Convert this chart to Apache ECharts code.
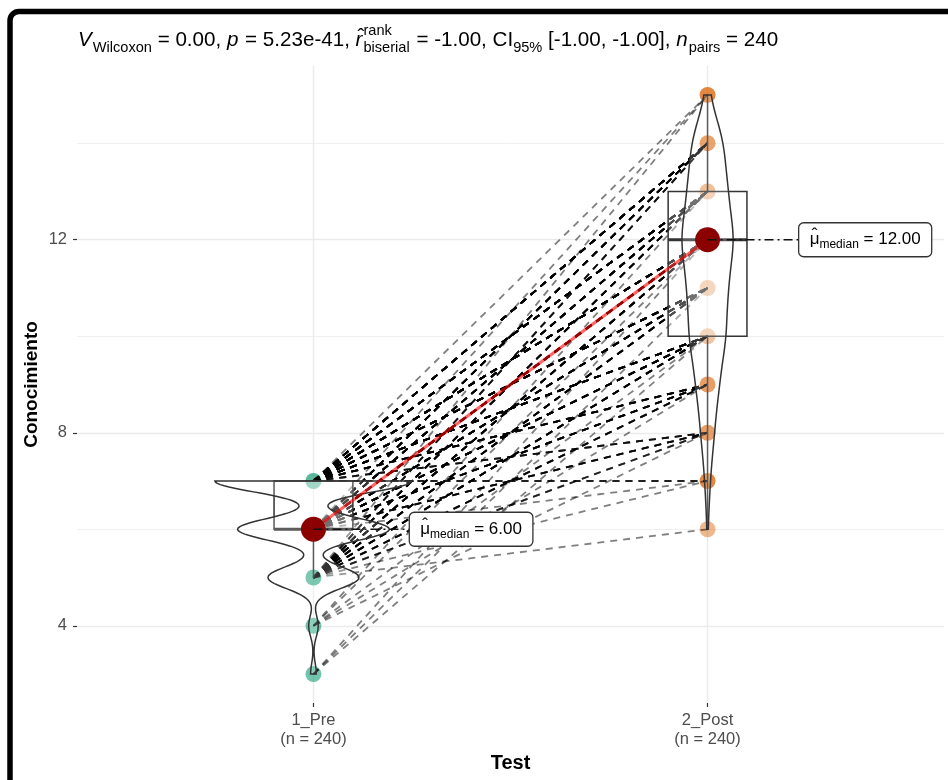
<!DOCTYPE html>
<html>
<head>
<meta charset="utf-8">
<script src="https://cdn.jsdelivr.net/npm/echarts@6/dist/echarts.min.js"></script>
<style>
  html, body { margin: 0; padding: 0; background: #ffffff; }
  #chart { width: 948px; height: 780px; }
</style>
</head>
<body>
<div id="chart"></div>
<script>
// ---- data -------------------------------------------------------------
// Knowledge score ("Conocimiento") of each participant before and after.
const groups = ['1_Pre', '2_Post'];
const groupN = [240, 240];

// Paired outcomes: pre score -> post score, with the number of participants
const pairPre   = [3, 3, 3,  4, 4, 4, 4, 4,  5, 5, 5, 5, 5, 5, 5, 5, 5, 5,  6, 6, 6, 6, 6, 6, 6, 6, 6,  7, 7, 7, 7, 7, 7, 7, 7, 7];
const pairPost  = [10, 11, 12,  8, 9, 10, 12, 13,  6, 7, 8, 9, 10, 11, 12, 13, 14, 15,  7, 8, 9, 10, 11, 12, 13, 14, 15,  7, 8, 9, 10, 11, 12, 13, 14, 15];
const pairCount = [1, 1, 1,  1, 1, 1, 1, 1,  1, 1, 3, 5, 8, 8, 10, 7, 4, 1,  1, 5, 8, 12, 13, 18, 12, 10, 1,  3, 4, 8, 14, 16, 22, 18, 18, 1];

// axis ticks
const yMajorTicks = [4, 8, 12];
const yMinorTicks = [6, 10, 14];

// test summary shown above the panel
const subtitleParts = [
  { text: 'V', kind: 'italic' }, { text: 'Wilcoxon', kind: 'sub' }, { text: ' = 0.00, ', kind: 'main' },
  { text: 'p', kind: 'italic' }, { text: ' = 5.23e-41, ', kind: 'main' },
  { text: 'r', kind: 'italic', hat: true }, { text: 'rank', kind: 'sup' }, { text: 'biserial', kind: 'sub' },
  { text: ' = -1.00, CI', kind: 'main' }, { text: '95%', kind: 'sub' }, { text: ' [-1.00, -1.00], ', kind: 'main' },
  { text: 'n', kind: 'italic' }, { text: 'pairs', kind: 'sub' }, { text: ' = 240', kind: 'main' }
];

// ---- styling ----------------------------------------------------------
const groupColors = ['#1B9E77', '#D95F02'];
// shade of each plotted score dot
const pointShade = [
  { 3: 0.62, 4: 0.62, 5: 0.72, 6: 0.7, 7: 0.72 },
  { 6: 0.45, 7: 0.75, 8: 0.75, 9: 0.75, 10: 0.45, 11: 0.45, 12: 0.5, 13: 0.5, 14: 0.72, 15: 0.75 }
];
const FONT = '"Liberation Sans", Arial, Helvetica, sans-serif';
const HAT = '\u02C6';

// ---- statistics -------------------------------------------------------
const preScores = [], postScores = [];
pairPre.forEach((p, i) => {
  for (let k = 0; k < pairCount[i]; k++) { preScores.push(p); postScores.push(pairPost[i]); }
});
const scoresByGroup = [preScores, postScores];

function quantile(sorted, q) {
  const h = (sorted.length - 1) * q;
  const lo = Math.floor(h), hi = Math.ceil(h);
  return sorted[lo] + (h - lo) * (sorted[hi] - sorted[lo]);
}
function sd(arr) {
  const m = arr.reduce((a, b) => a + b, 0) / arr.length;
  return Math.sqrt(arr.reduce((a, b) => a + (b - m) * (b - m), 0) / (arr.length - 1));
}
function boxStats(arr) {
  const s = arr.slice().sort((a, b) => a - b);
  const q1 = quantile(s, 0.25), med = quantile(s, 0.5), q3 = quantile(s, 0.75);
  const iqr = q3 - q1;
  const lowW = s.find(v => v >= q1 - 1.5 * iqr);
  const highW = s.filter(v => v <= q3 + 1.5 * iqr).pop();
  return { q1, med, q3, lowW, highW, min: s[0], max: s[s.length - 1], iqr };
}
function kde(arr, st) {
  const bw = 0.9 * Math.min(sd(arr), st.iqr / 1.34) * Math.pow(arr.length, -0.2);
  const out = [];
  const steps = 160;
  for (let i = 0; i <= steps; i++) {
    const y = st.min + (st.max - st.min) * i / steps;
    let d = 0;
    for (const v of arr) { const z = (y - v) / bw; d += Math.exp(-0.5 * z * z); }
    out.push([y, d / (arr.length * bw * Math.sqrt(2 * Math.PI))]);
  }
  return out;
}
const stats = scoresByGroup.map(boxStats);
const densities = scoresByGroup.map((a, i) => kde(a, stats[i]));
const maxDensity = Math.max(...densities.map(d => Math.max(...d.map(p => p[1]))));
const medians = stats.map(s => s.med);

// ---- text helpers -----------------------------------------------------
const measureCtx = document.createElement('canvas').getContext('2d');
function textWidth(str, font) { measureCtx.font = font; return measureCtx.measureText(str).width; }
function fontOf(size, italic, bold) {
  return (italic ? 'italic ' : '') + (bold ? 'bold ' : '') + size + 'px ' + FONT;
}
function textEl(text, x, y, font, align) {
  return { type: 'text', x: x, y: y, silent: true,
    style: { text: text, font: font, fill: '#000', align: align || 'left', verticalAlign: 'middle' } };
}

// lay out the subtitle with sub/superscripts
function subtitleElements(x0, yMid) {
  const els = [];
  let x = x0, stackX = null, stackW = 0;
  const mainSize = 20.6, scriptSize = 14.6;
  subtitleParts.forEach(part => {
    let font, y, px = x;
    if (part.kind === 'main') { font = fontOf(mainSize); y = yMid; }
    else if (part.kind === 'italic') { font = fontOf(mainSize, true); y = yMid; }
    else if (part.kind === 'sup') { font = fontOf(scriptSize); y = yMid - 9; }
    else { font = fontOf(scriptSize); y = yMid + 7.5; }
    const w = textWidth(part.text, font);
    if (part.kind === 'sup') {
      stackX = x; stackW = w;
    } else if (part.kind === 'sub' && stackX !== null) {
      px = stackX;
      x = stackX + Math.max(stackW, w) + 1;
      stackX = null;
    } else {
      x += w + (part.kind === 'italic' ? 1 : 0);
    }
    els.push(textEl(part.text, px, y, font));
    if (part.hat) els.push(textEl(HAT, px + w / 2 + 2, y - 3, fontOf(mainSize), 'center'));
  });
  return els;
}

// ---- chart ------------------------------------------------------------
const chart = echarts.init(document.getElementById('chart'), null, { renderer: 'canvas' });

const pointSeries = scoresByGroup.map((arr, gi) => {
  const uniq = Array.from(new Set(arr)).sort((a, b) => a - b);
  return {
    type: 'scatter', z: 1, symbolSize: 16, silent: true,
    data: uniq.map(v => ({ value: [gi + 1, v], itemStyle: { opacity: pointShade[gi][v] } })),
    itemStyle: { color: groupColors[gi] }
  };
});

const pathData = [];
pairPre.forEach((p, i) => {
  for (let k = 0; k < pairCount[i]; k++) pathData.push({ coords: [[1, p], [2, pairPost[i]]] });
});

const option = {
  animation: false,
  backgroundColor: '#ffffff',
  grid: { left: 77, right: 4, top: 66, bottom: 77, containLabel: false },
  xAxis: {
    type: 'value', min: 0.4, max: 2.6,
    axisLine: { show: false },
    axisTick: { show: true, customValues: [1, 2], length: 4, lineStyle: { color: '#333', width: 1.2 } },
    axisLabel: {
      customValues: [1, 2], margin: 8, color: '#4D4D4D', fontSize: 16.5, lineHeight: 19, fontFamily: FONT,
      formatter: v => groups[Math.round(v) - 1] + '\n(n = ' + groupN[Math.round(v) - 1] + ')'
    },
    splitLine: { show: true, lineStyle: { color: '#EBEBEB', width: 1.4 } },
    name: 'Test', nameLocation: 'middle', nameGap: 45,
    nameTextStyle: { fontWeight: 'bold', fontSize: 20, color: '#000', fontFamily: FONT }
  },
  yAxis: [{
    type: 'value', min: 2.4, max: 15.6,
    axisLine: { show: false },
    axisTick: { show: true, customValues: yMajorTicks, length: 4, lineStyle: { color: '#333', width: 1.2 } },
    axisLabel: { customValues: yMajorTicks, margin: 10, color: '#4D4D4D', fontSize: 16.5, fontFamily: FONT },
    splitLine: { show: true, lineStyle: { color: '#EBEBEB', width: 1.4 } },
    name: 'Conocimiento', nameLocation: 'middle', nameGap: 36, nameRotate: 90, nameMoveOverlap: false,
    nameTextStyle: { fontWeight: 'bold', fontSize: 19, color: '#000', fontFamily: FONT }
  }, {
    type: 'value', min: 2.4, max: 15.6, position: 'left',
    axisLine: { show: false },
    axisTick: { show: false, customValues: yMinorTicks },
    axisLabel: { show: false, customValues: yMinorTicks },
    splitLine: { show: true, lineStyle: { color: '#F0F0F0', width: 1 } }
  }],
  graphic: {
    elements: subtitleElements(78, 40).concat([{
      type: 'rect', z: 100, silent: true,
      shape: { x: 10, y: 11.5, width: 1000, height: 1000, r: 9 },
      style: { fill: null, stroke: '#000', lineWidth: 5.5 }
    }])
  },
  series: [
    pointSeries[0], pointSeries[1],
    {
      // one dashed path per participant
      type: 'lines', coordinateSystem: 'cartesian2d', z: 2, silent: true, polyline: false,
      data: pathData,
      lineStyle: { color: 'rgba(0,0,0,0.5)', width: 1.8, type: [7, 6], opacity: 1 }
    },
    {
      // box plots
      type: 'custom', z: 3, silent: true, clip: false,
      data: stats.map((s, i) => [i + 1, s.med]),
      renderItem: (params, api) => {
        const gi = params.dataIndex, gx = gi + 1, s = stats[gi];
        const tl = api.coord([gx - 0.1, s.q3]), br = api.coord([gx + 0.1, s.q1]);
        const ml = api.coord([gx - 0.1, s.med]), mr = api.coord([gx + 0.1, s.med]);
        const wTop = api.coord([gx, s.highW]), wQ3 = api.coord([gx, s.q3]);
        const wBot = api.coord([gx, s.lowW]), wQ1 = api.coord([gx, s.q1]);
        const stroke = '#333333';
        return {
          type: 'group', children: [
            { type: 'line', shape: { x1: wQ3[0], y1: wQ3[1], x2: wTop[0], y2: wTop[1] }, style: { stroke, lineWidth: 1.5 } },
            { type: 'line', shape: { x1: wQ1[0], y1: wQ1[1], x2: wBot[0], y2: wBot[1] }, style: { stroke, lineWidth: 1.5 } },
            { type: 'rect', shape: { x: tl[0], y: tl[1], width: br[0] - tl[0], height: br[1] - tl[1] },
              style: { fill: 'rgba(255,255,255,0.3)', stroke, lineWidth: 1.5 } },
            { type: 'line', shape: { x1: ml[0], y1: ml[1], x2: mr[0], y2: mr[1] }, style: { stroke, lineWidth: 3 } }
          ]
        };
      }
    },
    {
      // violins (area-scaled kernel density, trimmed at the data range)
      type: 'custom', z: 4, silent: true, clip: false,
      data: stats.map((s, i) => [i + 1, s.med]),
      renderItem: (params, api) => {
        const gi = params.dataIndex, gx = gi + 1;
        const dens = densities[gi];
        const left = dens.map(([y, d]) => api.coord([gx - 0.25 * d / maxDensity, y]));
        const right = dens.slice().reverse().map(([y, d]) => api.coord([gx + 0.25 * d / maxDensity, y]));
        return {
          type: 'polygon', shape: { points: left.concat(right) },
          style: { fill: 'rgba(255,255,255,0.2)', stroke: '#333333', lineWidth: 1.5 }
        };
      }
    },
    {
      // path joining the two medians
      type: 'line', z: 5, silent: true, symbol: 'none',
      data: medians.map((m, i) => [i + 1, m]),
      lineStyle: { color: 'rgba(255,0,0,0.6)', width: 3.2 }
    },
    {
      type: 'scatter', z: 6, silent: true, symbolSize: 25,
      data: medians.map((m, i) => [i + 1, m]),
      itemStyle: { color: '#8B0000', opacity: 1 }
    },
    {
      // median labels
      type: 'custom', z: 7, silent: true, clip: false,
      data: medians.map((m, i) => [i + 1, m]),
      renderItem: (params, api) => {
        const gi = params.dataIndex, gx = gi + 1, m = medians[gi];
        const p = api.coord([gx, m]);
        const c = api.coord([gx + 0.4, m]);
        const fMu = fontOf(17), fSub = fontOf(12), fVal = fontOf(17);
        const tMu = '\u03BC', tSub = 'median', tVal = ' = ' + m.toFixed(2);
        const wMu = textWidth(tMu, fMu), wSub = textWidth(tSub, fSub), wVal = textWidth(tVal, fVal);
        const tw = wMu + wSub + wVal, pad = 11, h = 34;
        const x0 = c[0] - tw / 2;
        const font = f => ({ font: f, fill: '#000', align: 'left', verticalAlign: 'middle' });
        return {
          type: 'group', children: [
            { type: 'line', shape: { x1: p[0], y1: p[1], x2: c[0] - tw / 2 - pad, y2: p[1] },
              style: { stroke: '#111', lineWidth: 1.4, lineDash: [9, 4, 2, 4] } },
            { type: 'rect', shape: { x: x0 - pad, y: c[1] - h / 2, width: tw + 2 * pad, height: h, r: 5 },
              style: { fill: '#ffffff', stroke: '#333333', lineWidth: 1.3 } },
            { type: 'text', x: x0, y: c[1], style: Object.assign({ text: tMu }, font(fMu)) },
            { type: 'text', x: x0 + wMu / 2, y: c[1] - 4, style: Object.assign({ text: HAT }, font(fMu), { align: 'center' }) },
            { type: 'text', x: x0 + wMu, y: c[1] + 5, style: Object.assign({ text: tSub }, font(fSub)) },
            { type: 'text', x: x0 + wMu + wSub, y: c[1], style: Object.assign({ text: tVal }, font(fVal)) }
          ]
        };
      }
    }
  ]
};

chart.setOption(option);
</script>
</body>
</html>
